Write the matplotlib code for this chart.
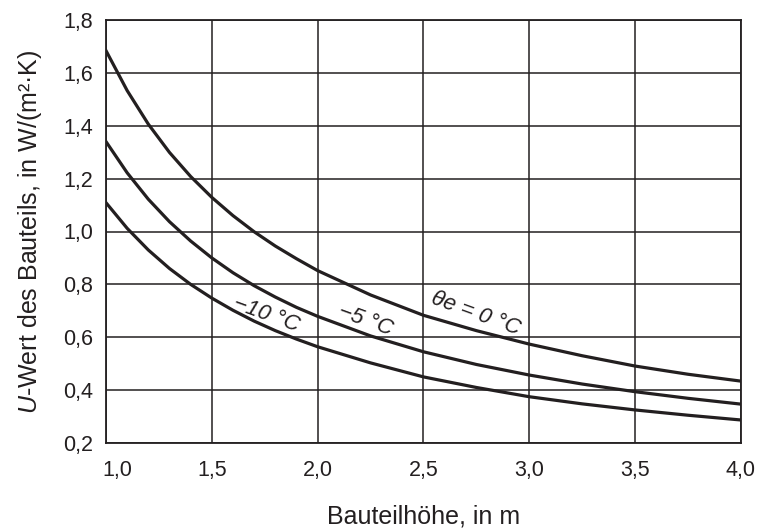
import matplotlib.pyplot as plt
import matplotlib.transforms as mtransforms
import numpy as np

plt.rcParams['font.family'] = ['Liberation Sans', 'DejaVu Sans']
plt.rcParams['mathtext.fontset'] = 'custom'
plt.rcParams['mathtext.it'] = 'Liberation Sans:italic'
plt.rcParams['mathtext.rm'] = 'Liberation Sans'

# Bauteilhöhe in m
hoehe = [1.0, 1.1, 1.2, 1.3, 1.4, 1.5, 1.6, 1.7, 1.8, 1.9, 2.0,
         2.25, 2.5, 2.75, 3.0, 3.25, 3.5, 3.75, 4.0]
# U-Werte in W/(m²·K)
u_0 = [1.684, 1.533, 1.406, 1.299, 1.208, 1.129, 1.060, 0.999, 0.945, 0.897, 0.852,
       0.76, 0.683, 0.625, 0.574, 0.53, 0.491, 0.46, 0.434]
u_m5 = [1.34, 1.222, 1.122, 1.037, 0.964, 0.900, 0.844, 0.795, 0.752, 0.713, 0.679,
        0.605, 0.545, 0.497, 0.457, 0.423, 0.394, 0.369, 0.347]
u_m10 = [1.109, 1.012, 0.930, 0.860, 0.800, 0.748, 0.702, 0.661, 0.625, 0.593, 0.564,
         0.503, 0.45, 0.41, 0.375, 0.348, 0.325, 0.305, 0.287]

kurven = [u_0, u_m5, u_m10]
beschriftung = ['θe = 0 °C', '−5 °C', '−10 °C']
label_pos = [(2.748, 0.688), (2.228, 0.665), (1.756, 0.684)]

x_ticks = [1.0, 1.5, 2.0, 2.5, 3.0, 3.5, 4.0]
y_ticks = [0.2, 0.4, 0.6, 0.8, 1.0, 1.2, 1.4, 1.6, 1.8]

fig = plt.figure(figsize=(7.59, 5.28), dpi=100, facecolor='white')
ax = fig.add_axes([106 / 759, 85 / 528, 635 / 759, 423 / 528])

farbe = '#231f20'
for u in kurven:
    ax.plot(hoehe, u, color=farbe, linewidth=2.3, solid_joinstyle='round')

for text, (tx, ty) in zip(beschriftung, label_pos):
    ax.text(tx, ty, text, fontsize=16, style='italic', rotation=-20,
            ha='center', va='center', color=farbe, rotation_mode='anchor')

ax.set_xlim(1.0, 4.0)
ax.set_ylim(0.2, 1.8)
ax.set_xticks(x_ticks)
ax.set_yticks(y_ticks)
ax.set_xticklabels([f'{v:.1f}'.replace('.', ',') for v in x_ticks])
ax.set_yticklabels([f'{v:.1f}'.replace('.', ',') for v in y_ticks])
ax.tick_params(length=0, labelsize=15.5, colors=farbe)
ax.tick_params(axis='x', pad=12)
ax.tick_params(axis='y', pad=9)

# erste x-Beschriftung etwas nach rechts (wie im Original)
first = ax.get_xticklabels()[0]
first.set_transform(first.get_transform() +
                    mtransforms.ScaledTranslation(11 / 100, 0, fig.dpi_scale_trans))

ax.grid(True, color=farbe, linewidth=1.1)
for s in ax.spines.values():
    s.set_color(farbe)
    s.set_linewidth(1.3)

ax.set_xlabel('Bauteilhöhe, in m', fontsize=18, labelpad=17, color=farbe)
ax.set_ylabel('$U$-Wert des Bauteils, in W/(m²·K)', fontsize=18, labelpad=14, color=farbe)

plt.savefig('out.png', dpi=100, facecolor='white')
plt.close()
